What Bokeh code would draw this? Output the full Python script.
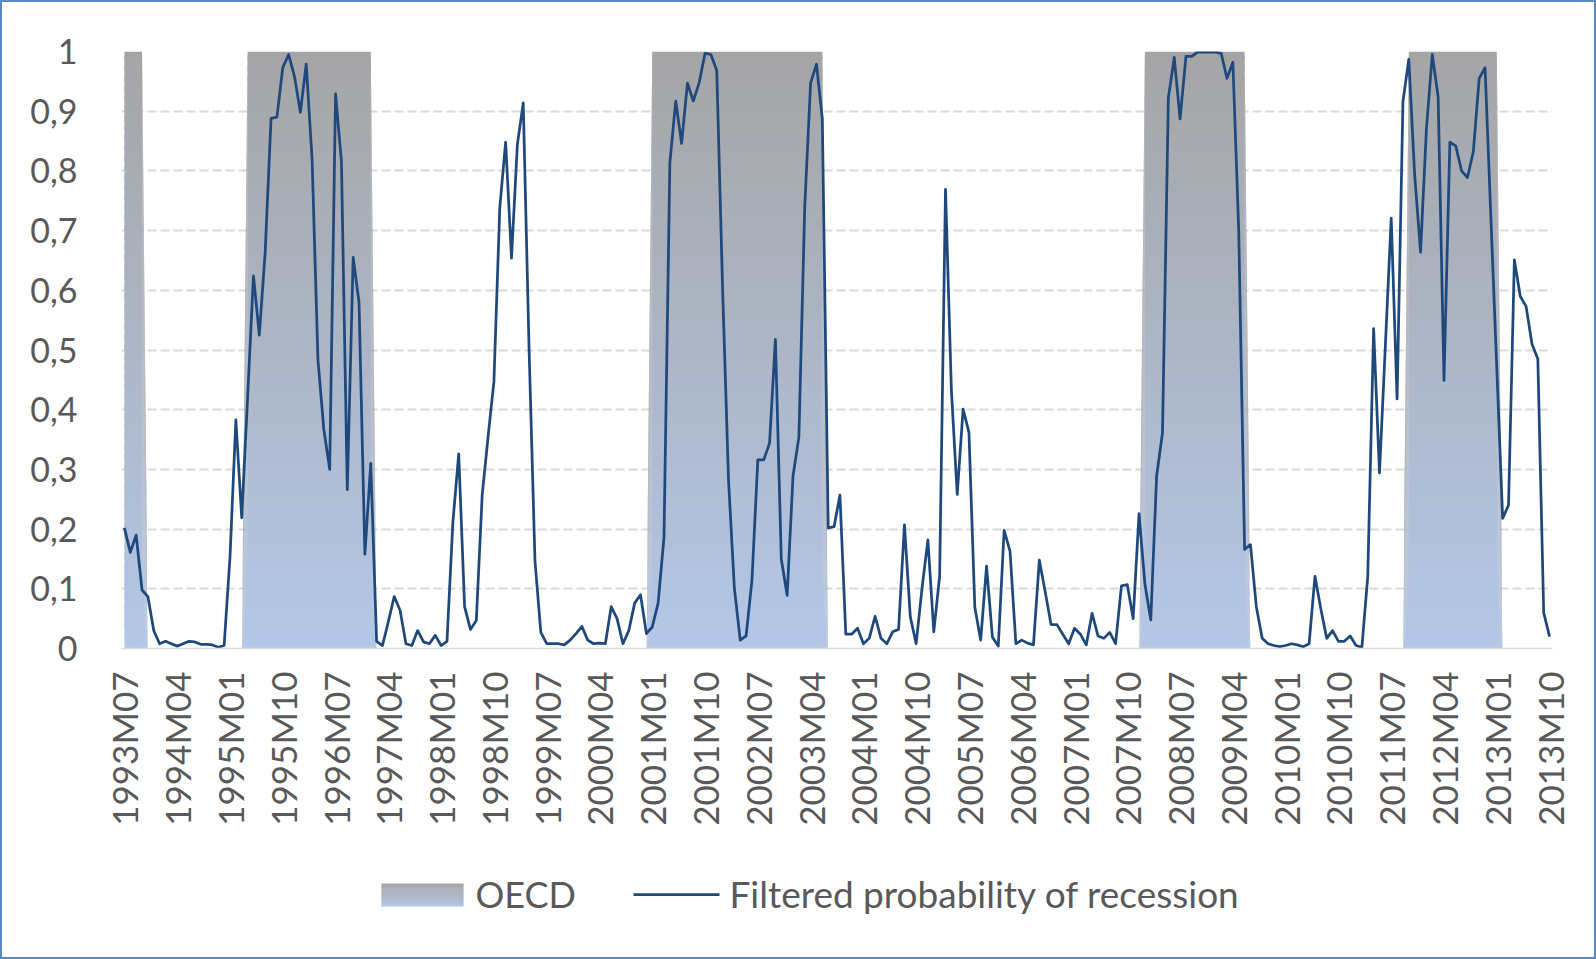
import numpy as np
from bokeh.plotting import figure
from bokeh.models import Range1d, FixedTicker
from bokeh.layouts import column
from bokeh.embed import file_html
from bokeh.resources import INLINE
from bokeh.core.properties import value

# ---------------- data ----------------
all_months = [f"{y}M{m:02d}" for y in range(1993, 2014) for m in range(1, 13)]
months = all_months[all_months.index("1993M07"): all_months.index("2013M10") + 1]

x_tick_labels = ["1993M07", "1994M04", "1995M01", "1995M10", "1996M07", "1997M04",
                 "1998M01", "1998M10", "1999M07", "2000M04", "2001M01", "2001M10",
                 "2002M07", "2003M04", "2004M01", "2004M10", "2005M07", "2006M04",
                 "2007M01", "2007M10", "2008M07", "2009M04", "2010M01", "2010M10",
                 "2011M07", "2012M04", "2013M01", "2013M10"]

y_ticks = [0.0, 0.1, 0.2, 0.3, 0.4, 0.5, 0.6, 0.7, 0.8, 0.9, 1.0]
y_tick_labels = ["0", "0,1", "0,2", "0,3", "0,4", "0,5", "0,6", "0,7", "0,8", "0,9", "1"]

# OECD recession periods (value 1 inside, 0 outside)
oecd_periods = [("1993M07", "1993M10"), ("1995M04", "1997M01"), ("2001M01", "2003M06"),
                ("2008M01", "2009M06"), ("2011M10", "2013M01")]

# Filtered probability of recession, monthly from 1993M07
prob = [
    0.202, 0.161, 0.190, 0.098, 0.087, 0.030,                                    # 1993 M07-M12
    0.008, 0.012, 0.008, 0.004, 0.008, 0.012, 0.011, 0.007, 0.007, 0.006, 0.002, 0.005,  # 1994
    0.153, 0.383, 0.219, 0.420, 0.624, 0.525, 0.664, 0.888, 0.890, 0.973, 0.995, 0.958,  # 1995
    0.898, 0.979, 0.819, 0.483, 0.367, 0.300, 0.929, 0.816, 0.266, 0.655, 0.580, 0.158,  # 1996
    0.310, 0.012, 0.005, 0.045, 0.087, 0.064, 0.008, 0.005, 0.030, 0.011, 0.008, 0.022,  # 1997
    0.005, 0.012, 0.211, 0.326, 0.070, 0.032, 0.047, 0.257, 0.354, 0.447, 0.738, 0.848,  # 1998
    0.654, 0.844, 0.914, 0.500, 0.147, 0.027, 0.008, 0.008, 0.008, 0.006, 0.014, 0.025,  # 1999
    0.037, 0.014, 0.008, 0.009, 0.008, 0.070, 0.050, 0.008, 0.030, 0.076, 0.090, 0.025,  # 2000
    0.036, 0.076, 0.186, 0.813, 0.917, 0.846, 0.947, 0.917, 0.948, 0.997, 0.995, 0.968,  # 2001
    0.600, 0.283, 0.101, 0.014, 0.021, 0.114, 0.316, 0.316, 0.344, 0.518, 0.150, 0.089,  # 2002
    0.289, 0.354, 0.740, 0.947, 0.979, 0.887, 0.202, 0.204, 0.257, 0.024, 0.024, 0.034,  # 2003
    0.008, 0.017, 0.054, 0.017, 0.008, 0.028, 0.032, 0.207, 0.053, 0.008, 0.101, 0.182,  # 2004
    0.028, 0.121, 0.769, 0.434, 0.258, 0.401, 0.362, 0.069, 0.014, 0.138, 0.019, 0.004,  # 2005
    0.198, 0.163, 0.008, 0.014, 0.009, 0.006, 0.148, 0.095, 0.040, 0.040, 0.024, 0.008,  # 2006
    0.034, 0.024, 0.006, 0.059, 0.021, 0.017, 0.027, 0.008, 0.105, 0.107, 0.050, 0.226,  # 2007
    0.108, 0.048, 0.289, 0.361, 0.922, 0.990, 0.887, 0.992, 0.992, 0.999, 0.999, 0.999,  # 2008
    0.999, 0.997, 0.955, 0.982, 0.700, 0.166, 0.174, 0.070, 0.017, 0.008, 0.005, 0.003,  # 2009
    0.005, 0.008, 0.006, 0.003, 0.008, 0.121, 0.066, 0.017, 0.030, 0.012, 0.012, 0.021,  # 2010
    0.005, 0.002, 0.121, 0.536, 0.294, 0.507, 0.721, 0.418, 0.916, 0.987, 0.793, 0.664,  # 2011
    0.870, 0.995, 0.924, 0.449, 0.848, 0.842, 0.800, 0.789, 0.832, 0.955, 0.973, 0.720,  # 2012
    0.470, 0.218, 0.240, 0.651, 0.590, 0.573, 0.510, 0.485, 0.060, 0.020,                # 2013 M01-M10
]

# ---------------- derived ----------------
x = np.arange(len(months))
oecd = np.zeros(len(months))
for a, b in oecd_periods:
    oecd[months.index(a): months.index(b) + 1] = 1.0

TEXT = "#595959"
LINE = "#1F497D"
GRID = "#D9D9D9"
TOP_RGB = np.array([165, 165, 165])
BOT_RGB = np.array([180, 199, 231])
FONT = "Lato"


def grad_color(t):
    c = BOT_RGB + (TOP_RGB - BOT_RGB) * t
    return "#%02x%02x%02x" % tuple(int(round(v)) for v in c)


W = 1592
H_MAIN = 840
H_LEG = 115
ML, MR = 119, 42

p = figure(width=W, height=H_MAIN,
           x_range=Range1d(-0.5, len(months) - 0.5), y_range=Range1d(0, 1),
           output_backend="svg", toolbar_location=None,
           min_border_left=ML, min_border_right=MR, min_border_top=49, min_border_bottom=194)
p.outline_line_color = None
p.background_fill_color = "white"
p.border_fill_color = "white"

# gradient-filled OECD area, built from stacked bands
N = 60
for k in range(N):
    lo = k / N
    hi = min((k + 1.6) / N, 1.0)
    p.varea(x=x, y1=oecd * lo, y2=oecd * hi, fill_color=grad_color((k + 0.5) / N),
            fill_alpha=1.0)

p.line(x, prob, line_color=LINE, line_width=2.75, line_join="round")

# axes
p.xaxis.ticker = FixedTicker(ticks=[months.index(l) for l in x_tick_labels])
p.xaxis.major_label_overrides = {months.index(l): l for l in x_tick_labels}
p.xaxis.major_label_orientation = np.pi / 2
p.xaxis.major_label_standoff = 17
p.xaxis.major_tick_line_color = None
p.xaxis.minor_tick_line_color = None
p.xaxis.axis_line_color = GRID
p.xaxis.axis_line_width = 1.5
p.xaxis.major_label_text_font = FONT
p.xaxis.major_label_text_font_size = "35px"
p.xaxis.major_label_text_color = TEXT

p.yaxis.ticker = FixedTicker(ticks=y_ticks)
p.yaxis.major_label_overrides = {t: l for t, l in zip(y_ticks, y_tick_labels)}
p.yaxis.major_label_standoff = 38
p.yaxis.major_tick_line_color = None
p.yaxis.minor_tick_line_color = None
p.yaxis.axis_line_color = None
p.yaxis.major_label_text_font = FONT
p.yaxis.major_label_text_font_size = "34px"
p.yaxis.major_label_text_color = TEXT

p.xgrid.grid_line_color = None
p.ygrid.ticker = FixedTicker(ticks=y_ticks)
p.ygrid.grid_line_color = GRID
p.ygrid.grid_line_width = 2
p.ygrid.grid_line_dash = "9 4"

# ---------------- legend ----------------
leg = figure(width=W, height=H_LEG, x_range=Range1d(ML, W - MR), y_range=Range1d(H_LEG, 0),
             output_backend="svg", toolbar_location=None, x_axis_type=None, y_axis_type=None,
             min_border_left=ML, min_border_right=MR, min_border_top=0, min_border_bottom=0)
leg.outline_line_color = None
leg.grid.visible = False
sw_l, sw_r, sw_t, sw_b = 379, 461, 41, 64
NL = 24
for k in range(NL):
    t0 = sw_t + (sw_b - sw_t) * k / NL
    t1 = sw_t + (sw_b - sw_t) * min(k + 1.6, NL) / NL
    leg.quad(left=[sw_l], right=[sw_r], top=[t0], bottom=[t1],
             fill_color=grad_color(1 - (k + 0.5) / NL), line_color=None)
leg.text(x=[473], y=[51], text=["OECD"], text_baseline="middle",
         text_font=value(FONT), text_font_size="36px", text_color=TEXT)
leg.line(x=[631, 717], y=[52, 52], line_color=LINE, line_width=2.75)
leg.text(x=[727], y=[51], text=["Filtered probability of recession"], text_baseline="middle",
         text_font=value(FONT), text_font_size="37px", text_color=TEXT)

layout = column(p, leg, styles={"border": "2px solid #5A8AC6"})

open("out.html", "w").write(file_html(layout, INLINE))
